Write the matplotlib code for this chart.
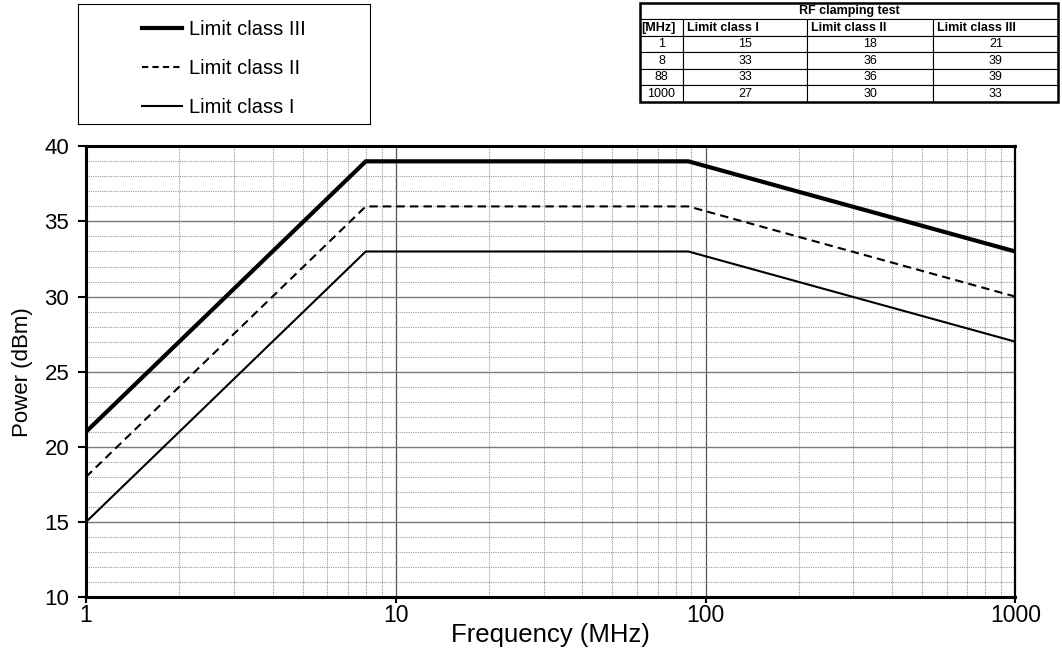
import matplotlib
matplotlib.use("Agg")
import matplotlib.pyplot as plt
from matplotlib.lines import Line2D
from matplotlib.ticker import FixedLocator, MultipleLocator, NullFormatter

plt.rcParams['font.family'] = ['Liberation Sans', 'DejaVu Sans']

# Data: RF clamping test limits
freq_mhz = [1, 8, 88, 1000]
class_1 = [15, 33, 33, 27]
class_2 = [18, 36, 36, 30]
class_3 = [21, 39, 39, 33]
x_ticks = [1, 10, 100, 1000]
y_ticks = [10, 15, 20, 25, 30, 35, 40]

fig = plt.figure(figsize=(10.62, 6.62), dpi=100)

# -------------------------------
# MAIN CHART
# -------------------------------
ax = fig.add_axes([0.081, 0.098, 0.875, 0.681])
ax.set_xscale('log')
ax.set_xlim(1, 1000)
ax.set_ylim(10, 40)

ax.plot(freq_mhz, class_3, color='black', lw=3.0, solid_capstyle='butt', zorder=5)
ax.plot(freq_mhz, class_2, color='black', lw=1.5, linestyle=(0, (4, 2.5)), zorder=5)
ax.plot(freq_mhz, class_1, color='black', lw=1.5, zorder=5)

ax.xaxis.set_major_locator(FixedLocator(x_ticks))
ax.set_xticklabels([str(t) for t in x_ticks])
ax.xaxis.set_minor_locator(FixedLocator([m * d for d in [1, 10, 100] for m in range(2, 10)]))
ax.xaxis.set_minor_formatter(NullFormatter())
ax.yaxis.set_major_locator(FixedLocator(y_ticks))
ax.yaxis.set_minor_locator(MultipleLocator(1))

ax.grid(which='major', axis='y', color='#7a7a7a', lw=1.0, linestyle='-')
ax.grid(which='major', axis='x', color='#555555', lw=0.9, linestyle='-')
ax.grid(which='minor', color='#999999', lw=0.8, linestyle=(0, (1, 1)))
ax.set_axisbelow(True)

for s in ax.spines.values():
    s.set_linewidth(2.2)
ax.spines['right'].set_linewidth(1.6)

ax.tick_params(axis='y', which='major', direction='out', length=6, width=1.5, labelsize=16, pad=6)
ax.tick_params(axis='x', which='major', direction='out', length=4, width=1.5, labelsize=16.5, pad=1)
ax.tick_params(which='minor', length=0)

ax.set_xlabel("Frequency (MHz)", fontsize=18.5, labelpad=-3)
ax.set_ylabel("Power (dBm)", fontsize=16, labelpad=8)

# -------------------------------
# LEGEND BOX
# -------------------------------
leg_ax = fig.add_axes([0.0734, 0.813, 0.2746, 0.181])
leg_ax.set_xticks([])
leg_ax.set_yticks([])
for s in leg_ax.spines.values():
    s.set_linewidth(0.8)
handles = [
    Line2D([], [], color='black', lw=3.0),
    Line2D([], [], color='black', lw=1.5, linestyle=(0, (3, 2))),
    Line2D([], [], color='black', lw=1.5),
]
leg_ax.legend(handles, ["Limit class III", "Limit class II", "Limit class I"],
              loc='center', bbox_to_anchor=(0.5, 0.46), frameon=False, fontsize=14.5,
              handlelength=2.0, labelspacing=1.0, handletextpad=0.35, borderaxespad=0)

# -------------------------------
# TABLE
# -------------------------------
tab_ax = fig.add_axes([0.6026, 0.846, 0.394, 0.1495])
tab_ax.axis('off')
col_w = [43, 124, 126, 125]
col_w = [w / sum(col_w) for w in col_w]

title_tab = tab_ax.table(cellText=[["RF clamping test"]], cellLoc='center',
                         bbox=[0, 5 / 6, 1, 1 / 6])
header = ["[MHz]", "Limit class I", "Limit class II", "Limit class III"]
rows = [[str(f), str(a), str(b), str(c)] for f, a, b, c in zip(freq_mhz, class_1, class_2, class_3)]
main_tab = tab_ax.table(cellText=[header] + rows, colWidths=col_w, cellLoc='center',
                        bbox=[0, 0, 1, 5 / 6])

for t in (title_tab, main_tab):
    t.auto_set_font_size(False)
    t.set_fontsize(9)
    for (r, c), cell in t.get_celld().items():
        cell.set_linewidth(0.8)
        cell.PAD = 0.03

for c in range(4):
    cell = main_tab[0, c]
    cell.get_text().set_fontweight('bold')
    cell._loc = 'left'
    cell.get_text().set_ha('left')
title_tab[0, 0].get_text().set_fontweight('bold')

tab_ax.add_patch(plt.Rectangle((0, 0), 1, 1, transform=tab_ax.transAxes,
                               fill=False, lw=1.8, color='black', clip_on=False))

fig.savefig("out.png", dpi=100)
